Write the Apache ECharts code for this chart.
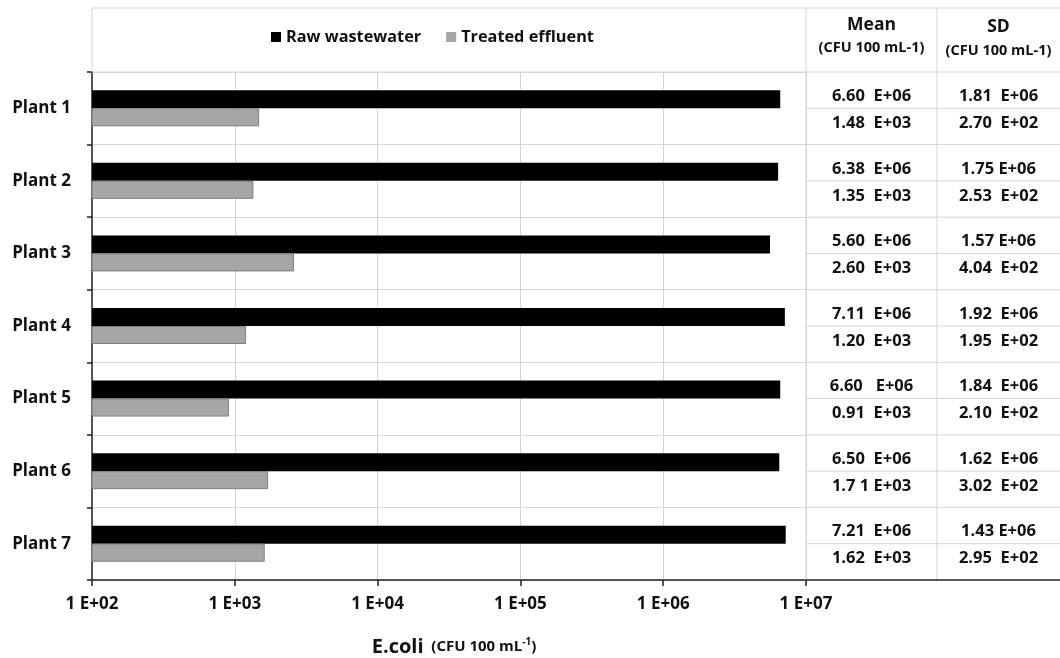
<!DOCTYPE html>
<html>
<head>
<meta charset="utf-8">
<script src="https://cdn.jsdelivr.net/npm/echarts@6/dist/echarts.min.js"></script>
<style>
  html, body { margin: 0; padding: 0; background: #fff; }
  #chart { width: 1060px; height: 658px; }
</style>
</head>
<body>
<div id="chart"></div>
<script>
// E. coli counts per plant (CFU 100 mL-1)
const plants = ['Plant 1', 'Plant 2', 'Plant 3', 'Plant 4', 'Plant 5', 'Plant 6', 'Plant 7'];
const rawMean = [6.60e6, 6.38e6, 5.60e6, 7.11e6, 6.60e6, 6.50e6, 7.21e6];
const effMean = [1.48e3, 1.35e3, 2.60e3, 1.20e3, 0.91e3, 1.71e3, 1.62e3];
const rawMeanText = ['6.60  E+06', '6.38  E+06', '5.60  E+06', '7.11  E+06', '6.60   E+06', '6.50  E+06', '7.21  E+06'];
const effMeanText = ['1.48  E+03', '1.35  E+03', '2.60  E+03', '1.20  E+03', '0.91  E+03', '1.7 1 E+03', '1.62  E+03'];
const rawSdText = ['1.81  E+06', '1.75 E+06', '1.57 E+06', '1.92  E+06', '1.84  E+06', '1.62  E+06', '1.43 E+06'];
const effSdText = ['2.70  E+02', '2.53  E+02', '4.04  E+02', '1.95  E+02', '2.10  E+02', '3.02  E+02', '2.95  E+02'];
const xTicks = ['1 E+02', '1 E+03', '1 E+04', '1 E+05', '1 E+06', '1 E+07'];

const FONT = 'Open Sans';
const GRID = { left: 92, top: 72, right: 254, bottom: 78 };
const W = 1060, FRAME_TOP = 8, COL2 = 937;
const lineColor = '#d4d4d4';

const chart = echarts.init(document.getElementById('chart'), null, { renderer: 'canvas' });

chart.setOption({
  backgroundColor: '#fff',
  animation: false,
  grid: Object.assign({ containLabel: false, outerBoundsMode: 'none' }, GRID),
  legend: {
    left: 266, top: 24,
    itemWidth: 10, itemHeight: 10, itemGap: 25, itemStyle: { borderWidth: 0 },
    icon: 'rect',
    textStyle: { fontFamily: FONT, fontWeight: 'bold', fontSize: 16.3, color: '#111' },
    data: ['Raw wastewater', 'Treated effluent']
  },
  xAxis: {
    type: 'log', logBase: 10, min: 100, max: 1e7,
    axisLine: { show: true, lineStyle: { color: '#222', width: 1.5 } },
    axisTick: { show: true, length: 6, lineStyle: { color: '#222', width: 1.5 } },
    minorTick: { show: false },
    splitLine: { show: true, lineStyle: { color: lineColor, width: 1 } },
    axisLabel: {
      margin: 16, fontFamily: FONT, fontWeight: 'bold', fontSize: 17, color: '#111',
      formatter: v => xTicks[Math.round(Math.log10(v)) - 2]
    },
    name: '{a|E.coli}{b|  (CFU 100 mL}{s|-1}{b|)}',
    nameLocation: 'middle', nameGap: 57,
    nameTextStyle: {
      rich: {
        a: { fontFamily: FONT, fontWeight: 'bold', fontSize: 20, color: '#111', padding: [0, 0, 0, 10] },
        b: { fontFamily: FONT, fontWeight: 'bold', fontSize: 15, color: '#111' },
        s: { fontFamily: FONT, fontWeight: 'bold', fontSize: 10, color: '#111', verticalAlign: 'top', padding: [0, 0, 9, 0] }
      }
    }
  },
  yAxis: {
    type: 'category', data: plants, inverse: true,
    axisLine: { show: true, lineStyle: { color: '#222', width: 1.5 } },
    axisTick: { show: true, length: 5, lineStyle: { color: '#222', width: 1.5 } },
    splitLine: { show: true, lineStyle: { color: lineColor, width: 1 } },
    axisLabel: { margin: 21, fontFamily: FONT, fontWeight: 'bold', fontSize: 17, color: '#111' }
  },
  series: [
    {
      name: 'Raw wastewater', type: 'bar', data: rawMean,
      barWidth: 18, barGap: '0%',
      itemStyle: { color: '#000' }
    },
    {
      name: 'Treated effluent', type: 'bar', data: effMean,
      barWidth: 18, barGap: '0%',
      itemStyle: { color: '#a6a6a6', borderColor: '#7f7f7f', borderWidth: 1 }
    }
  ]
});

// Frame, header and the Mean / SD table to the right of the plot
function drawTable() {
  const gRight = W - GRID.right;
  const gTop = GRID.top;
  const gBottom = chart.getHeight() - GRID.bottom;
  const els = [];
  const line = (x1, y1, x2, y2, color, w) => els.push({
    type: 'line', silent: true, z: 10,
    shape: { x1, y1, x2, y2 },
    style: { stroke: color || lineColor, lineWidth: w || 1 }
  });
  const text = (x, y, str, size) => els.push({
    type: 'text', silent: true, z: 11,
    style: {
      x, y, text: str, align: 'center', verticalAlign: 'middle',
      fontFamily: FONT, fontWeight: 'bold', fontSize: size, fill: '#111'
    }
  });

  // outer frame and header row
  line(GRID.left, FRAME_TOP, W, FRAME_TOP);
  line(GRID.left, FRAME_TOP, GRID.left, gTop);
  line(GRID.left, gTop, W, gTop);
  line(gRight, FRAME_TOP, gRight, gBottom);
  line(COL2, FRAME_TOP, COL2, gBottom);
  line(gRight, gBottom, W, gBottom, '#222', 1.5);

  const meanX = (gRight + COL2) / 2;
  const sdX = (COL2 + W) / 2;
  text(meanX, 25, 'Mean', 17.5);
  text(meanX, 48, '(CFU 100 mL-1)', 14.5);
  text(sdX, 27, 'SD', 17.5);
  text(sdX, 51, '(CFU 100 mL-1)', 14.5);

  const band = (gBottom - gTop) / plants.length;
  plants.forEach((p, i) => {
    const cy = chart.convertToPixel({ yAxisIndex: 0 }, i);
    if (i > 0) line(gRight, cy - band / 2, W, cy - band / 2);
    line(gRight, cy, W, cy);
    text(meanX, cy - 12, rawMeanText[i], 16.5);
    text(meanX, cy + 15, effMeanText[i], 16.5);
    text(sdX, cy - 12, rawSdText[i], 16.5);
    text(sdX, cy + 15, effSdText[i], 16.5);
  });

  chart.setOption({ graphic: { elements: els } });
}
drawTable();
</script>
</body>
</html>
